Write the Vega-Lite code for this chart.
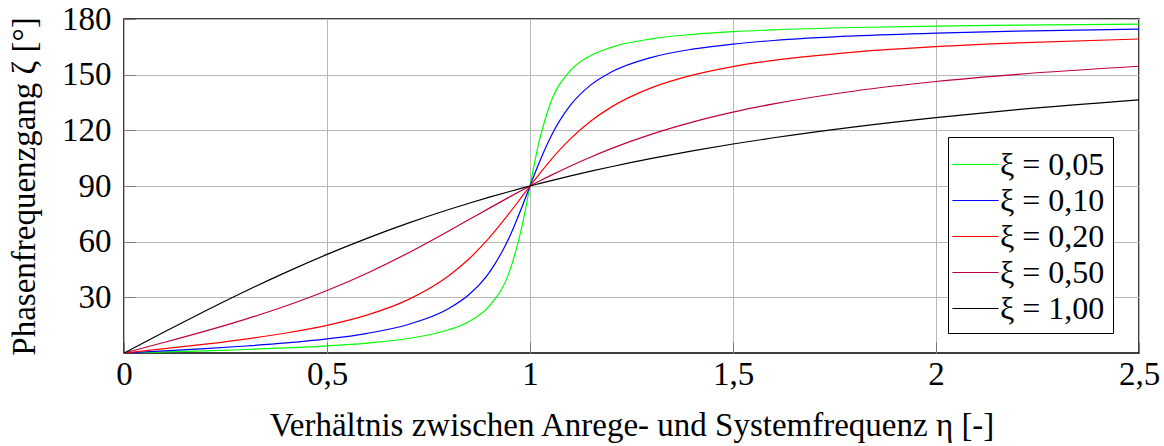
{
  "$schema": "https://vega.github.io/schema/vega-lite/v6.json",
  "width": 1015,
  "height": 334,
  "autosize": {"type": "none"},
  "padding": {"left": 124, "top": 19, "right": 25, "bottom": 93},
  "background": "white",
  "config": {
    "font": "Liberation Serif",
    "view": {"stroke": "black", "strokeWidth": 1.5},
    "axis": {
      "domain": false,
      "grid": true,
      "gridColor": "#b8b8b8",
      "gridWidth": 1,
      "tickColor": "#777777",
      "tickWidth": 1,
      "tickSize": -11,
      "labelFontSize": 33,
      "labelColor": "black",
      "titleFontSize": 33,
      "titleFontWeight": "normal",
      "titleColor": "black"
    }
  },
  "data": {
    "values": [
      {"xi": "ξ = 0,05", "eta": 0, "zeta": 0},
      {"xi": "ξ = 0,05", "eta": 0.1, "zeta": 0.58},
      {"xi": "ξ = 0,05", "eta": 0.2, "zeta": 1.19},
      {"xi": "ξ = 0,05", "eta": 0.3, "zeta": 1.89},
      {"xi": "ξ = 0,05", "eta": 0.4, "zeta": 2.73},
      {"xi": "ξ = 0,05", "eta": 0.5, "zeta": 3.81},
      {"xi": "ξ = 0,05", "eta": 0.6, "zeta": 5.36},
      {"xi": "ξ = 0,05", "eta": 0.7, "zeta": 7.81},
      {"xi": "ξ = 0,05", "eta": 0.8, "zeta": 12.53},
      {"xi": "ξ = 0,05", "eta": 0.85, "zeta": 17.03},
      {"xi": "ξ = 0,05", "eta": 0.9, "zeta": 25.35},
      {"xi": "ξ = 0,05", "eta": 0.95, "zeta": 44.26},
      {"xi": "ξ = 0,05", "eta": 0.98, "zeta": 67.99},
      {"xi": "ξ = 0,05", "eta": 1.0, "zeta": 90},
      {"xi": "ξ = 0,05", "eta": 1.02, "zeta": 111.61},
      {"xi": "ξ = 0,05", "eta": 1.05, "zeta": 134.31},
      {"xi": "ξ = 0,05", "eta": 1.1, "zeta": 152.35},
      {"xi": "ξ = 0,05", "eta": 1.15, "zeta": 160.38},
      {"xi": "ξ = 0,05", "eta": 1.2, "zeta": 164.74},
      {"xi": "ξ = 0,05", "eta": 1.3, "zeta": 169.33},
      {"xi": "ξ = 0,05", "eta": 1.4, "zeta": 171.70},
      {"xi": "ξ = 0,05", "eta": 1.5, "zeta": 173.16},
      {"xi": "ξ = 0,05", "eta": 1.6, "zeta": 174.14},
      {"xi": "ξ = 0,05", "eta": 1.8, "zeta": 175.41},
      {"xi": "ξ = 0,05", "eta": 2.0, "zeta": 176.19},
      {"xi": "ξ = 0,05", "eta": 2.2, "zeta": 176.72},
      {"xi": "ξ = 0,05", "eta": 2.5, "zeta": 177.27},

      {"xi": "ξ = 0,10", "eta": 0, "zeta": 0},
      {"xi": "ξ = 0,10", "eta": 0.1, "zeta": 1.16},
      {"xi": "ξ = 0,10", "eta": 0.2, "zeta": 2.39},
      {"xi": "ξ = 0,10", "eta": 0.3, "zeta": 3.77},
      {"xi": "ξ = 0,10", "eta": 0.4, "zeta": 5.44},
      {"xi": "ξ = 0,10", "eta": 0.5, "zeta": 7.59},
      {"xi": "ξ = 0,10", "eta": 0.6, "zeta": 10.62},
      {"xi": "ξ = 0,10", "eta": 0.7, "zeta": 15.35},
      {"xi": "ξ = 0,10", "eta": 0.8, "zeta": 23.96},
      {"xi": "ξ = 0,10", "eta": 0.85, "zeta": 31.49},
      {"xi": "ξ = 0,10", "eta": 0.9, "zeta": 43.45},
      {"xi": "ξ = 0,10", "eta": 0.95, "zeta": 62.84},
      {"xi": "ξ = 0,10", "eta": 0.98, "zeta": 78.58},
      {"xi": "ξ = 0,10", "eta": 1.0, "zeta": 90},
      {"xi": "ξ = 0,10", "eta": 1.02, "zeta": 101.20},
      {"xi": "ξ = 0,10", "eta": 1.05, "zeta": 116.02},
      {"xi": "ξ = 0,10", "eta": 1.1, "zeta": 133.67},
      {"xi": "ξ = 0,10", "eta": 1.15, "zeta": 144.50},
      {"xi": "ξ = 0,10", "eta": 1.2, "zeta": 151.39},
      {"xi": "ξ = 0,10", "eta": 1.3, "zeta": 159.35},
      {"xi": "ξ = 0,10", "eta": 1.4, "zeta": 163.74},
      {"xi": "ξ = 0,10", "eta": 1.5, "zeta": 166.50},
      {"xi": "ξ = 0,10", "eta": 1.6, "zeta": 168.41},
      {"xi": "ξ = 0,10", "eta": 1.8, "zeta": 170.87},
      {"xi": "ξ = 0,10", "eta": 2.0, "zeta": 172.41},
      {"xi": "ξ = 0,10", "eta": 2.2, "zeta": 173.46},
      {"xi": "ξ = 0,10", "eta": 2.5, "zeta": 174.56},

      {"xi": "ξ = 0,20", "eta": 0, "zeta": 0},
      {"xi": "ξ = 0,20", "eta": 0.1, "zeta": 2.31},
      {"xi": "ξ = 0,20", "eta": 0.2, "zeta": 4.76},
      {"xi": "ξ = 0,20", "eta": 0.3, "zeta": 7.51},
      {"xi": "ξ = 0,20", "eta": 0.4, "zeta": 10.78},
      {"xi": "ξ = 0,20", "eta": 0.5, "zeta": 14.93},
      {"xi": "ξ = 0,20", "eta": 0.6, "zeta": 20.56},
      {"xi": "ξ = 0,20", "eta": 0.7, "zeta": 28.77},
      {"xi": "ξ = 0,20", "eta": 0.8, "zeta": 41.63},
      {"xi": "ξ = 0,20", "eta": 0.85, "zeta": 50.78},
      {"xi": "ξ = 0,20", "eta": 0.9, "zeta": 62.18},
      {"xi": "ξ = 0,20", "eta": 0.95, "zeta": 75.61},
      {"xi": "ξ = 0,20", "eta": 0.98, "zeta": 84.23},
      {"xi": "ξ = 0,20", "eta": 1.0, "zeta": 90},
      {"xi": "ξ = 0,20", "eta": 1.02, "zeta": 95.65},
      {"xi": "ξ = 0,20", "eta": 1.05, "zeta": 103.71},
      {"xi": "ξ = 0,20", "eta": 1.1, "zeta": 115.51},
      {"xi": "ξ = 0,20", "eta": 1.15, "zeta": 125.03},
      {"xi": "ξ = 0,20", "eta": 1.2, "zeta": 132.51},
      {"xi": "ξ = 0,20", "eta": 1.3, "zeta": 143.00},
      {"xi": "ξ = 0,20", "eta": 1.4, "zeta": 149.74},
      {"xi": "ξ = 0,20", "eta": 1.5, "zeta": 154.36},
      {"xi": "ξ = 0,20", "eta": 1.6, "zeta": 157.69},
      {"xi": "ξ = 0,20", "eta": 1.8, "zeta": 162.18},
      {"xi": "ξ = 0,20", "eta": 2.0, "zeta": 165.07},
      {"xi": "ξ = 0,20", "eta": 2.2, "zeta": 167.09},
      {"xi": "ξ = 0,20", "eta": 2.5, "zeta": 169.22},

      {"xi": "ξ = 0,50", "eta": 0, "zeta": 0},
      {"xi": "ξ = 0,50", "eta": 0.1, "zeta": 5.77},
      {"xi": "ξ = 0,50", "eta": 0.2, "zeta": 11.77},
      {"xi": "ξ = 0,50", "eta": 0.3, "zeta": 18.25},
      {"xi": "ξ = 0,50", "eta": 0.4, "zeta": 25.46},
      {"xi": "ξ = 0,50", "eta": 0.5, "zeta": 33.69},
      {"xi": "ξ = 0,50", "eta": 0.6, "zeta": 43.15},
      {"xi": "ξ = 0,50", "eta": 0.7, "zeta": 53.92},
      {"xi": "ξ = 0,50", "eta": 0.8, "zeta": 65.77},
      {"xi": "ξ = 0,50", "eta": 0.85, "zeta": 71.92},
      {"xi": "ξ = 0,50", "eta": 0.9, "zeta": 78.08},
      {"xi": "ξ = 0,50", "eta": 0.95, "zeta": 84.14},
      {"xi": "ξ = 0,50", "eta": 0.98, "zeta": 87.69},
      {"xi": "ξ = 0,50", "eta": 1.0, "zeta": 90},
      {"xi": "ξ = 0,50", "eta": 1.02, "zeta": 92.27},
      {"xi": "ξ = 0,50", "eta": 1.05, "zeta": 95.58},
      {"xi": "ξ = 0,50", "eta": 1.1, "zeta": 100.81},
      {"xi": "ξ = 0,50", "eta": 1.15, "zeta": 105.66},
      {"xi": "ξ = 0,50", "eta": 1.2, "zeta": 110.14},
      {"xi": "ξ = 0,50", "eta": 1.3, "zeta": 117.96},
      {"xi": "ξ = 0,50", "eta": 1.4, "zeta": 124.44},
      {"xi": "ξ = 0,50", "eta": 1.5, "zeta": 129.81},
      {"xi": "ξ = 0,50", "eta": 1.6, "zeta": 134.27},
      {"xi": "ξ = 0,50", "eta": 1.8, "zeta": 141.21},
      {"xi": "ξ = 0,50", "eta": 2.0, "zeta": 146.31},
      {"xi": "ξ = 0,50", "eta": 2.2, "zeta": 150.19},
      {"xi": "ξ = 0,50", "eta": 2.5, "zeta": 154.54},

      {"xi": "ξ = 1,00", "eta": 0, "zeta": 0},
      {"xi": "ξ = 1,00", "eta": 0.1, "zeta": 11.42},
      {"xi": "ξ = 1,00", "eta": 0.2, "zeta": 22.62},
      {"xi": "ξ = 1,00", "eta": 0.3, "zeta": 33.40},
      {"xi": "ξ = 1,00", "eta": 0.4, "zeta": 43.60},
      {"xi": "ξ = 1,00", "eta": 0.5, "zeta": 53.13},
      {"xi": "ξ = 1,00", "eta": 0.6, "zeta": 61.93},
      {"xi": "ξ = 1,00", "eta": 0.7, "zeta": 69.98},
      {"xi": "ξ = 1,00", "eta": 0.8, "zeta": 77.32},
      {"xi": "ξ = 1,00", "eta": 0.85, "zeta": 80.73},
      {"xi": "ξ = 1,00", "eta": 0.9, "zeta": 83.97},
      {"xi": "ξ = 1,00", "eta": 0.95, "zeta": 87.06},
      {"xi": "ξ = 1,00", "eta": 0.98, "zeta": 88.84},
      {"xi": "ξ = 1,00", "eta": 1.0, "zeta": 90},
      {"xi": "ξ = 1,00", "eta": 1.02, "zeta": 91.13},
      {"xi": "ξ = 1,00", "eta": 1.05, "zeta": 92.79},
      {"xi": "ξ = 1,00", "eta": 1.1, "zeta": 95.45},
      {"xi": "ξ = 1,00", "eta": 1.15, "zeta": 97.98},
      {"xi": "ξ = 1,00", "eta": 1.2, "zeta": 100.39},
      {"xi": "ξ = 1,00", "eta": 1.3, "zeta": 104.86},
      {"xi": "ξ = 1,00", "eta": 1.4, "zeta": 108.92},
      {"xi": "ξ = 1,00", "eta": 1.5, "zeta": 112.62},
      {"xi": "ξ = 1,00", "eta": 1.6, "zeta": 115.99},
      {"xi": "ξ = 1,00", "eta": 1.8, "zeta": 121.89},
      {"xi": "ξ = 1,00", "eta": 2.0, "zeta": 126.87},
      {"xi": "ξ = 1,00", "eta": 2.2, "zeta": 131.11},
      {"xi": "ξ = 1,00", "eta": 2.5, "zeta": 136.40}
    ]
  },
  "mark": {"type": "line", "strokeWidth": 1.2, "interpolate": "monotone", "clip": true},
  "encoding": {
    "x": {
      "field": "eta",
      "type": "quantitative",
      "scale": {"domain": [0, 2.5], "nice": false, "zero": false},
      "axis": {
        "values": [0, 0.5, 1, 1.5, 2, 2.5],
        "labelExpr": "replace(toString(datum.value), '.', ',')",
        "labelPadding": 16,
        "labelFlush": false,
        "title": "Verhältnis zwischen Anrege- und Systemfrequenz η [-]",
        "titlePadding": 18
      }
    },
    "y": {
      "field": "zeta",
      "type": "quantitative",
      "scale": {"domain": [0, 180], "nice": false},
      "axis": {
        "values": [30, 60, 90, 120, 150, 180],
        "labelPadding": 24,
        "title": "Phasenfrequenzgang ζ [°]",
        "titlePadding": 20
      }
    },
    "color": {
      "field": "xi",
      "type": "nominal",
      "scale": {
        "domain": ["ξ = 0,05", "ξ = 0,10", "ξ = 0,20", "ξ = 0,50", "ξ = 1,00"],
        "range": ["#00ff00", "#0000ff", "#ff0000", "#bf0040", "#000000"]
      },
      "legend": {
        "title": null,
        "orient": "none",
        "legendX": 824,
        "legendY": 118,
        "strokeColor": "black",
        "fillColor": "white",
        "padding": 8,
        "cornerRadius": 0,
        "symbolType": "M-1.25,0H1.25",
        "symbolSize": 1369,
        "symbolStrokeWidth": 1.2,
        "labelFontSize": 32,
        "labelColor": "black",
        "labelOffset": 5,
        "rowPadding": 0
      }
    }
  }
}
